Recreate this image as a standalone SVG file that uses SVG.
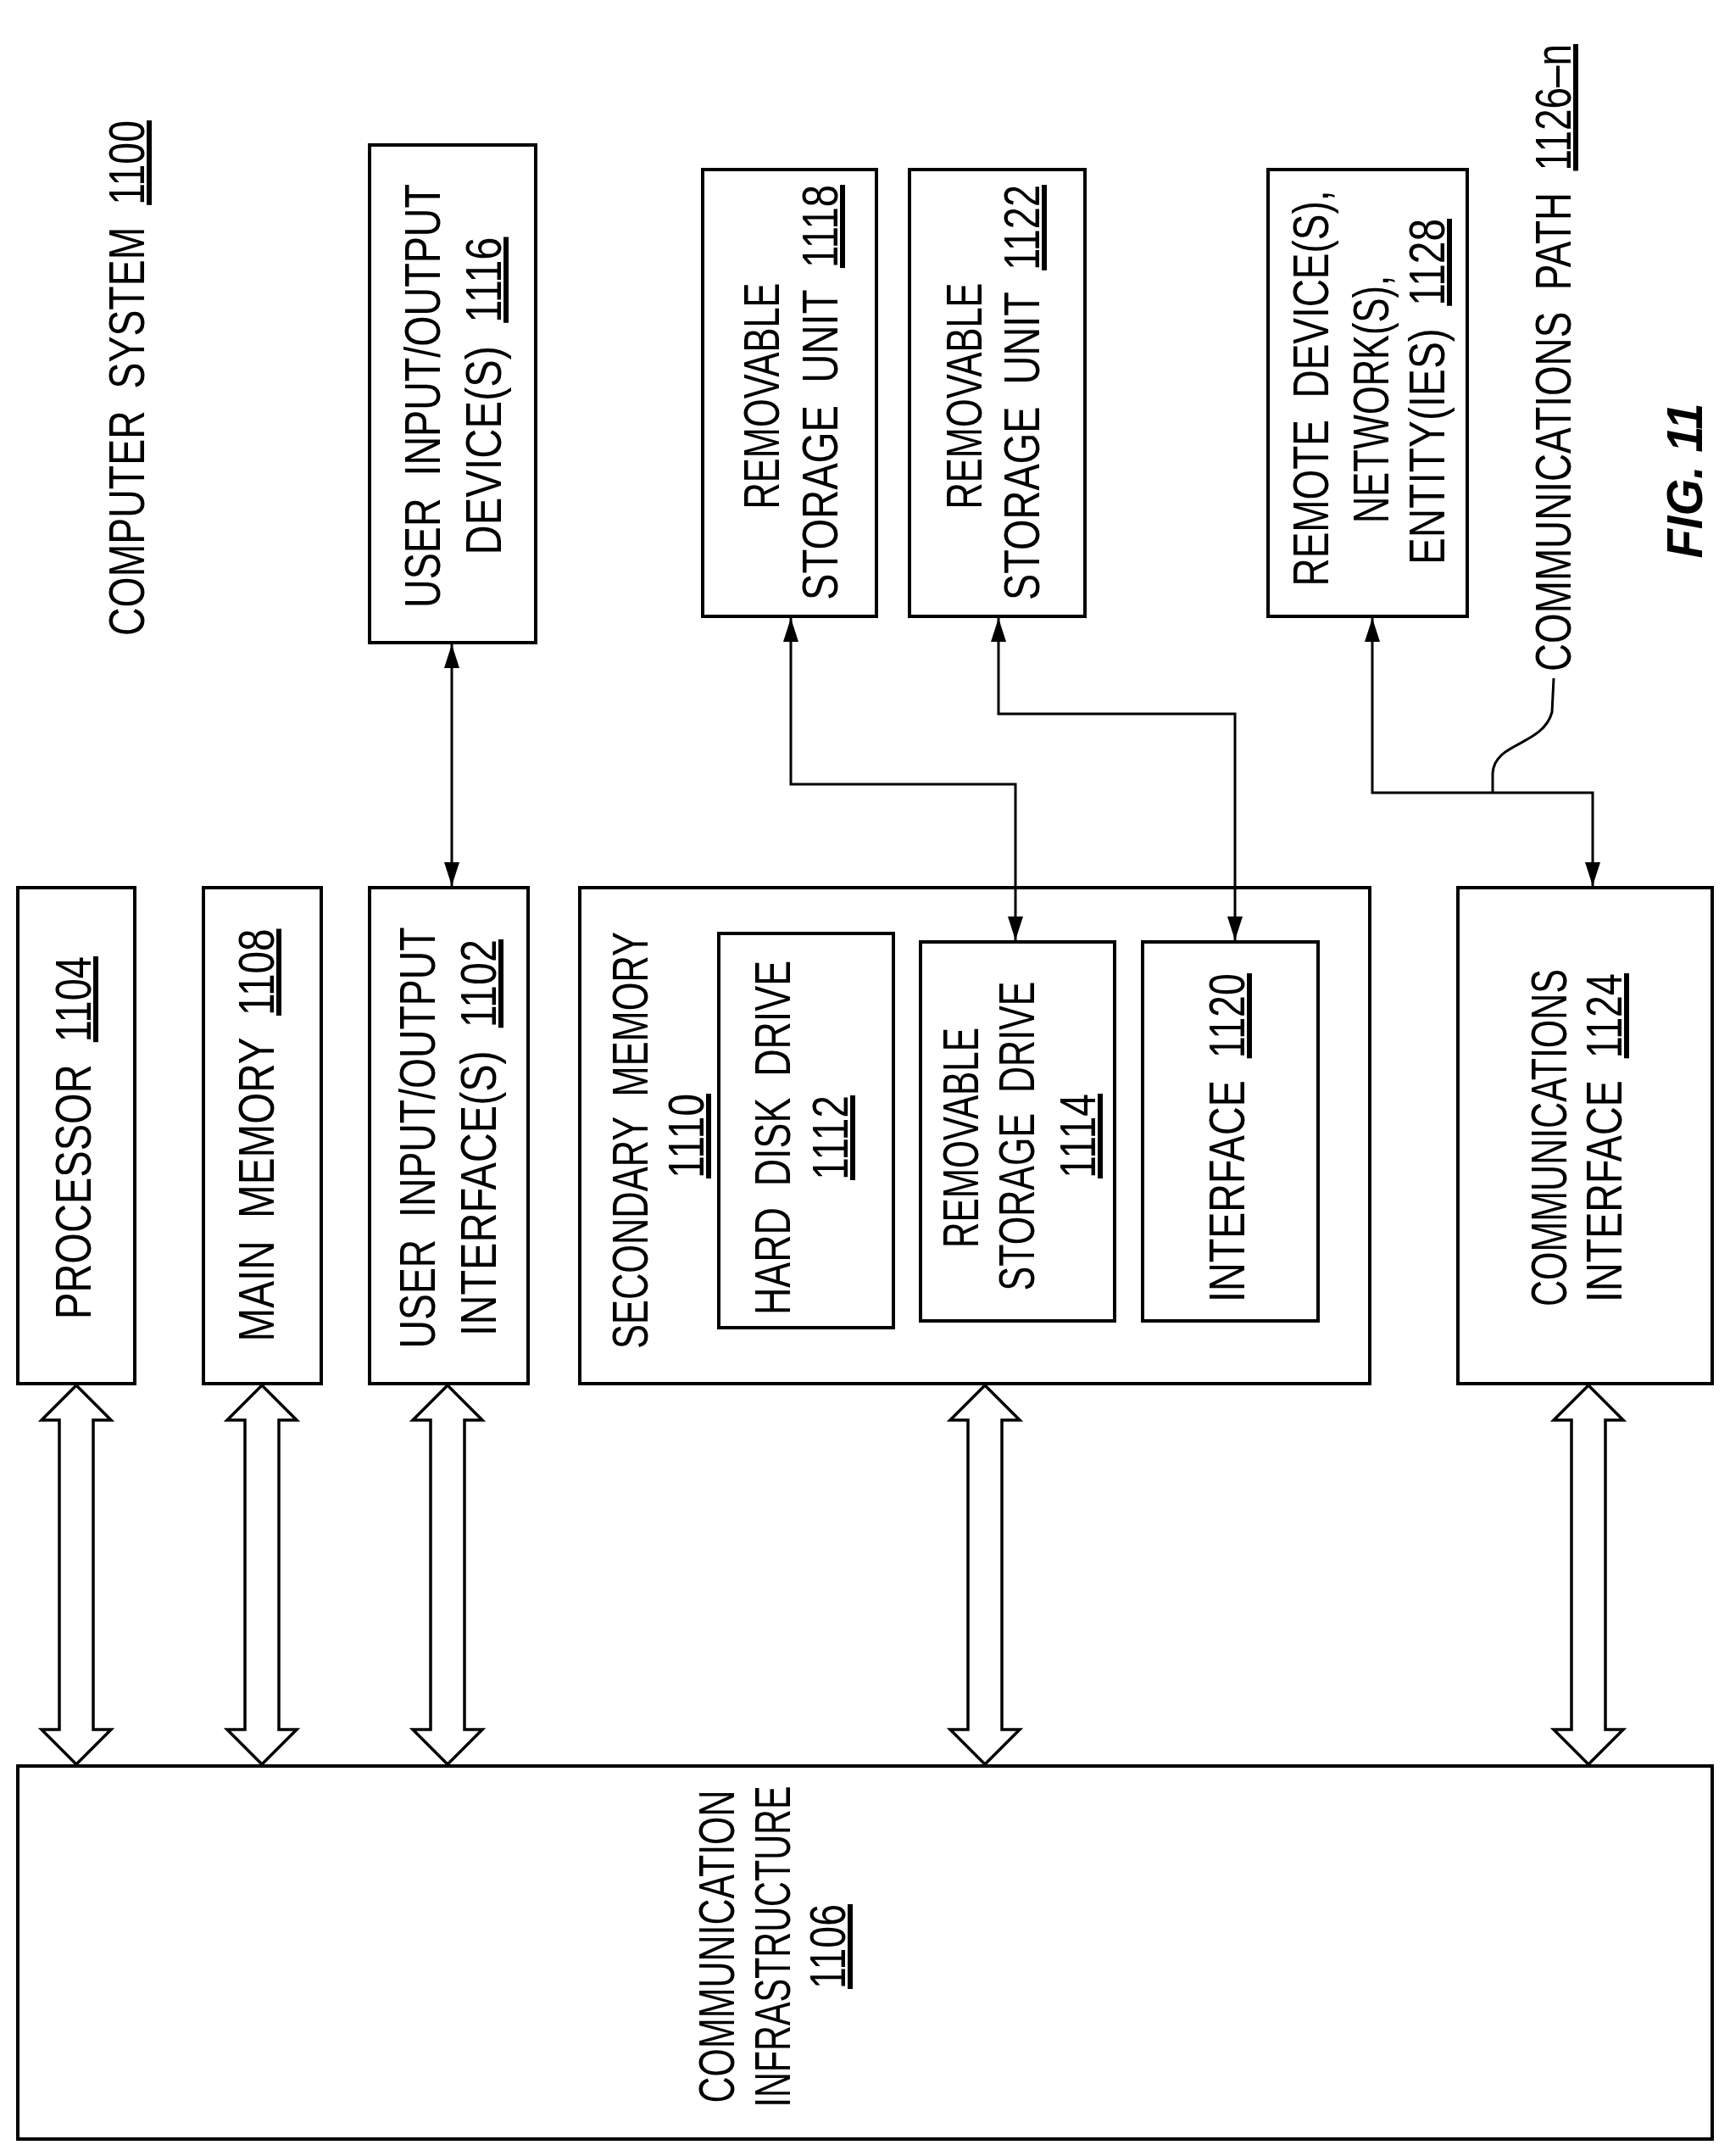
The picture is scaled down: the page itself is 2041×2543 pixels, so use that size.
<svg xmlns="http://www.w3.org/2000/svg" width="2041" height="2543" viewBox="0 0 2041 2543">
<style>
.b{fill:none;stroke:#000;stroke-width:4}
.c{fill:none;stroke:#000;stroke-width:3}
.h{fill:#fff;stroke:#000;stroke-width:3.5;stroke-linejoin:miter}
text{font-family:"Liberation Sans",Arial,sans-serif;font-size:60px;fill:#000;text-anchor:middle;white-space:pre}
.u{text-decoration:underline}
</style>
<defs>
<marker id="a" viewBox="0 0 10 10" refX="10" refY="5" markerWidth="28" markerHeight="18" markerUnits="userSpaceOnUse" orient="auto-start-reverse" preserveAspectRatio="none">
<path d="M0,0 L10,5 L0,10 Z" fill="#000"/>
</marker>
</defs>
<rect width="2041" height="2543" fill="#fff"/>
<g id="title"><text transform="translate(170,446) rotate(-90)" textLength="608" lengthAdjust="spacingAndGlyphs">COMPUTER  SYSTEM  <tspan class="u">1100</tspan></text></g>
<g id="n1116"><rect class="b" x="436" y="171" width="196" height="587"/>
<text transform="translate(519,467) rotate(-90)" textLength="500" lengthAdjust="spacingAndGlyphs">USER  INPUT/OUTPUT</text>
<text transform="translate(591,467) rotate(-90)" textLength="375" lengthAdjust="spacingAndGlyphs">DEVICE(S)  <tspan class="u">1116</tspan></text></g>
<g id="n1118"><rect class="b" x="829" y="200" width="205" height="527"/>
<text transform="translate(919,467) rotate(-90)" textLength="267" lengthAdjust="spacingAndGlyphs">REMOVABLE</text>
<text transform="translate(988,463) rotate(-90)" textLength="490" lengthAdjust="spacingAndGlyphs">STORAGE  UNIT  <tspan class="u">1118</tspan></text></g>
<g id="n1122"><rect class="b" x="1073" y="200" width="207" height="527"/>
<text transform="translate(1158,467) rotate(-90)" textLength="267" lengthAdjust="spacingAndGlyphs">REMOVABLE</text>
<text transform="translate(1226,463) rotate(-90)" textLength="490" lengthAdjust="spacingAndGlyphs">STORAGE  UNIT  <tspan class="u">1122</tspan></text></g>
<g id="n1128"><rect class="b" x="1496" y="200" width="235" height="527"/>
<text transform="translate(1567,458) rotate(-90)" textLength="467" lengthAdjust="spacingAndGlyphs">REMOTE  DEVICE(S),</text>
<text transform="translate(1638,471) rotate(-90)" textLength="292" lengthAdjust="spacingAndGlyphs">NETWORK(S),</text>
<text transform="translate(1704,462) rotate(-90)" textLength="408" lengthAdjust="spacingAndGlyphs">ENTITY(IES)  <tspan class="u">1128</tspan></text></g>
<g id="path1126"><text transform="translate(1853,422) rotate(-90)" textLength="740" lengthAdjust="spacingAndGlyphs">COMMUNICATIONS  PATH  <tspan class="u">1126–n</tspan></text></g>
<g id="fig"><text transform="translate(2008,567) rotate(-90)" textLength="183" lengthAdjust="spacingAndGlyphs" style="font-weight:bold;font-style:italic">FIG. 11</text></g>
<g id="n1104"><rect class="b" x="21" y="1047" width="138" height="585"/>
<text transform="translate(107,1342) rotate(-90)" textLength="428" lengthAdjust="spacingAndGlyphs">PROCESSOR  <tspan class="u">1104</tspan></text></g>
<g id="n1108"><rect class="b" x="240" y="1047" width="139" height="585"/>
<text transform="translate(323,1339) rotate(-90)" textLength="487" lengthAdjust="spacingAndGlyphs">MAIN  MEMORY  <tspan class="u">1108</tspan></text></g>
<g id="n1102"><rect class="b" x="436" y="1047" width="187" height="585"/>
<text transform="translate(513,1342) rotate(-90)" textLength="497" lengthAdjust="spacingAndGlyphs">USER  INPUT/OUTPUT</text>
<text transform="translate(585,1342) rotate(-90)" textLength="468" lengthAdjust="spacingAndGlyphs">INTERFACE(S)  <tspan class="u">1102</tspan></text></g>
<g id="n1110"><rect class="b" x="684" y="1047" width="932" height="585"/>
<text transform="translate(764,1345) rotate(-90)" textLength="492" lengthAdjust="spacingAndGlyphs">SECONDARY  MEMORY</text>
<text transform="translate(830,1340) rotate(-90)" textLength="100" lengthAdjust="spacingAndGlyphs" class="u">1110</text></g>
<g id="n1112"><rect class="b" x="848" y="1101" width="206" height="465"/>
<text transform="translate(932,1342) rotate(-90)" textLength="418" lengthAdjust="spacingAndGlyphs">HARD  DISK  DRIVE</text>
<text transform="translate(1000,1342) rotate(-90)" textLength="100" lengthAdjust="spacingAndGlyphs" class="u">1112</text></g>
<g id="n1114"><rect class="b" x="1086" y="1111" width="229" height="447"/>
<text transform="translate(1154,1342) rotate(-90)" textLength="260" lengthAdjust="spacingAndGlyphs">REMOVABLE</text>
<text transform="translate(1220,1340) rotate(-90)" textLength="365" lengthAdjust="spacingAndGlyphs">STORAGE  DRIVE</text>
<text transform="translate(1292,1340) rotate(-90)" textLength="100" lengthAdjust="spacingAndGlyphs" class="u">1114</text></g>
<g id="n1120"><rect class="b" x="1348" y="1111" width="207" height="447"/>
<text transform="translate(1468,1342) rotate(-90)" textLength="388" lengthAdjust="spacingAndGlyphs">INTERFACE  <tspan class="u">1120</tspan></text></g>
<g id="n1124"><rect class="b" x="1720" y="1047" width="300" height="585"/>
<text transform="translate(1848,1342) rotate(-90)" textLength="398" lengthAdjust="spacingAndGlyphs">COMMUNICATIONS</text>
<text transform="translate(1913,1342) rotate(-90)" textLength="388" lengthAdjust="spacingAndGlyphs">INTERFACE  <tspan class="u">1124</tspan></text></g>
<g id="n1106"><rect class="b" x="21" y="2083" width="1999" height="440"/>
<text transform="translate(866,2296) rotate(-90)" textLength="369" lengthAdjust="spacingAndGlyphs">COMMUNICATION</text>
<text transform="translate(932,2296) rotate(-90)" textLength="379" lengthAdjust="spacingAndGlyphs">INFRASTRUCTURE</text>
<text transform="translate(997,2296) rotate(-90)" textLength="100" lengthAdjust="spacingAndGlyphs" class="u">1106</text></g>
<g id="connectors">
<path class="h" d="M90,1634 L131,1675 L110,1675 L110,2040 L131,2040 L90,2081 L49,2040 L70,2040 L70,1675 L49,1675 Z"/>
<path class="h" d="M309,1634 L350,1675 L329,1675 L329,2040 L350,2040 L309,2081 L268,2040 L289,2040 L289,1675 L268,1675 Z"/>
<path class="h" d="M528,1634 L569,1675 L548,1675 L548,2040 L569,2040 L528,2081 L487,2040 L508,2040 L508,1675 L487,1675 Z"/>
<path class="h" d="M1162,1634 L1203,1675 L1182,1675 L1182,2040 L1203,2040 L1162,2081 L1121,2040 L1142,2040 L1142,1675 L1121,1675 Z"/>
<path class="h" d="M1874,1634 L1915,1675 L1894,1675 L1894,2040 L1915,2040 L1874,2081 L1833,2040 L1854,2040 L1854,1675 L1833,1675 Z"/>
<path class="c" d="M533,760 L533,1045" marker-start="url(#a)" marker-end="url(#a)"/>
<path class="c" d="M933,729 L933,925 L1198,925 L1198,1109" marker-start="url(#a)" marker-end="url(#a)"/>
<path class="c" d="M1178,729 L1178,842 L1457,842 L1457,1109" marker-start="url(#a)" marker-end="url(#a)"/>
<path class="c" d="M1619,729 L1619,935 L1879,935 L1879,1045" marker-start="url(#a)" marker-end="url(#a)"/>
<path class="c" d="M1761,935 L1761,912 C1763,875 1820,880 1831,840 L1833,800"/>
</g>
</svg>
